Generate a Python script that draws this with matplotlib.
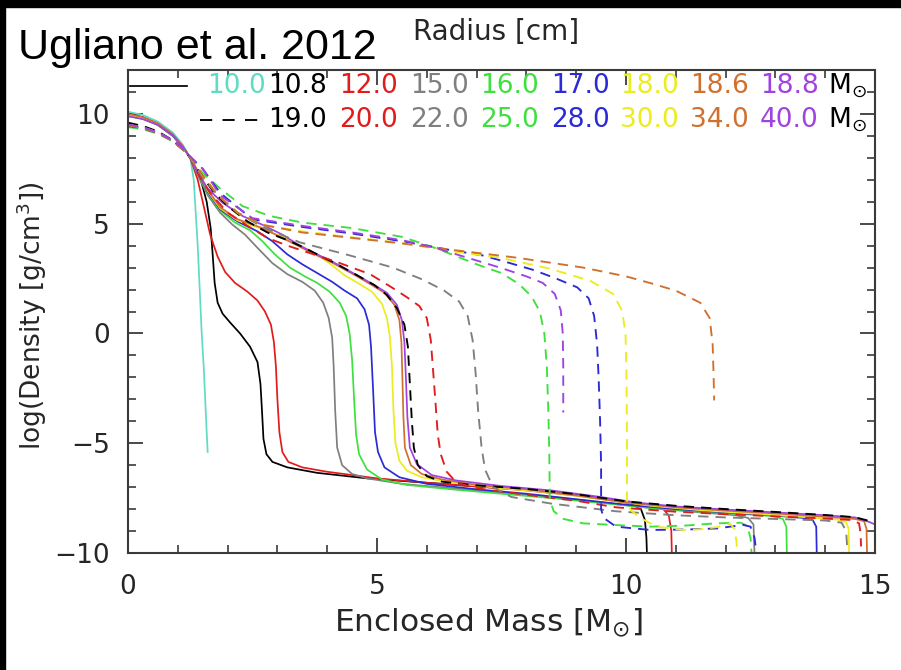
import matplotlib
matplotlib.use("Agg")
import matplotlib.pyplot as plt
from matplotlib.patches import Rectangle
from matplotlib.ticker import MultipleLocator

# ---------------- data ----------------
# solid curves: 10.0 .. 18.8 Msun
x_10_0 = [0, 0.3, 0.6, 0.9, 1.1, 1.25, 1.32, 1.36, 1.4, 1.44, 1.48, 1.52, 1.55, 1.58, 1.6]
y_10_0 = [10.1, 9.95, 9.65, 9.15, 8.6, 8.0, 7.0, 5.5, 4.0, 2.0, 0.0, -1.5, -3.0, -4.5, -5.4]

x_10_8 = [0, 0.3, 0.6, 0.9, 1.1, 1.25, 1.45, 1.58, 1.66, 1.7, 1.74, 1.8, 1.9, 2.05, 2.25, 2.45, 2.6, 2.66,
          2.69, 2.72, 2.78, 2.9, 3.2, 3.8, 4.8, 6.0, 7.0, 8.0, 9.0, 9.8, 10.1, 10.3, 10.38, 10.41, 10.42]
y_10_8 = [10.0, 9.85, 9.55, 9.05, 8.5, 8.0, 7.1, 6.0, 4.8, 3.6, 2.3, 1.4, 0.9, 0.5, 0.0, -0.6, -1.3, -2.3,
          -3.5, -4.8, -5.5, -5.85, -6.1, -6.35, -6.6, -6.8, -6.97, -7.12, -7.35, -7.6, -7.75, -8.0, -8.5, -9.3, -10.0]

x_12_0 = [0, 0.3, 0.6, 0.9, 1.1, 1.25, 1.4, 1.52, 1.65, 1.8, 1.95, 2.15, 2.4, 2.6, 2.75, 2.87, 2.93, 2.97,
          3.0, 3.04, 3.1, 3.22, 3.5, 4.0, 5.0, 6.0, 7.0, 8.0, 9.0, 10.0, 10.5, 10.75, 10.86, 10.91, 10.92]
y_12_0 = [9.95, 9.8, 9.5, 9.0, 8.5, 8.0, 7.0, 5.8, 4.5, 3.5, 2.8, 2.3, 1.9, 1.5, 1.0, 0.4, -0.4, -1.5,
          -3.0, -4.5, -5.4, -5.85, -6.1, -6.3, -6.6, -6.8, -6.97, -7.15, -7.38, -7.7, -7.85, -8.0, -8.3, -9.0, -10.0]

x_15_0 = [0, 0.3, 0.6, 0.9, 1.1, 1.25, 1.4, 1.6, 1.85, 2.1, 2.35, 2.6, 2.9, 3.2, 3.5, 3.75, 3.92, 4.03,
          4.1, 4.13, 4.16, 4.2, 4.3, 4.5, 4.8, 5.5, 6.5, 7.5, 8.5, 9.5, 10.5, 11.5, 12.2, 12.45, 12.56, 12.58]
y_15_0 = [9.9, 9.78, 9.5, 9.0, 8.5, 8.0, 7.2, 6.3, 5.5, 4.95, 4.5, 3.9, 3.2, 2.7, 2.35, 1.95, 1.4, 0.7,
          -0.2, -1.5, -3.5, -5.2, -6.0, -6.4, -6.6, -6.85, -7.05, -7.25, -7.45, -7.7, -7.95, -8.15, -8.28, -8.4, -8.7, -10.0]

x_16_0 = [0, 0.3, 0.6, 0.9, 1.1, 1.25, 1.4, 1.6, 1.85, 2.15, 2.45, 2.7, 2.95, 3.25, 3.55, 3.8, 4.05, 4.25,
          4.38, 4.45, 4.5, 4.54, 4.58, 4.64, 4.8, 5.1, 5.6, 6.5, 7.5, 8.5, 9.5, 10.5, 11.5, 12.5, 12.95, 13.15, 13.22, 13.23]
y_16_0 = [9.9, 9.78, 9.5, 9.0, 8.5, 8.0, 7.3, 6.4, 5.6, 5.05, 4.7, 4.2, 3.6, 3.0, 2.6, 2.3, 1.9, 1.4,
          0.8, 0.0, -1.2, -3.0, -4.6, -5.5, -6.2, -6.65, -6.9, -7.1, -7.3, -7.5, -7.72, -7.95, -8.12, -8.25, -8.32, -8.45, -8.8, -10.0]

x_17_0 = [0, 0.3, 0.6, 0.9, 1.1, 1.25, 1.4, 1.6, 1.85, 2.2, 2.6, 2.9, 3.2, 3.5, 3.8, 4.1, 4.35, 4.6,
          4.75, 4.84, 4.88, 4.92, 4.96, 5.02, 5.15, 5.45, 6.0, 7.0, 8.0, 9.0, 10.0, 11.0, 12.0, 13.0, 13.55, 13.75, 13.82, 13.83]
y_17_0 = [9.95, 9.8, 9.52, 9.02, 8.5, 8.0, 7.35, 6.45, 5.65, 5.1, 4.65, 4.2, 3.6, 3.15, 2.75, 2.35, 1.95, 1.6,
          1.1, 0.4, -0.6, -2.5, -4.5, -5.4, -6.1, -6.55, -6.85, -7.1, -7.3, -7.55, -7.8, -8.0, -8.15, -8.3, -8.4, -8.5, -8.8, -10.0]

x_18_0 = [0, 0.3, 0.6, 0.9, 1.1, 1.25, 1.4, 1.6, 1.85, 2.2, 2.7, 3.1, 3.5, 3.8, 4.1, 4.35, 4.65, 4.9, 5.1,
          5.2, 5.26, 5.3, 5.33, 5.37, 5.45, 5.6, 5.9, 6.5, 7.5, 8.5, 9.5, 10.5, 11.5, 12.5, 13.5, 14.25, 14.42, 14.47, 14.48]
y_18_0 = [9.95, 9.82, 9.55, 9.05, 8.52, 8.0, 7.4, 6.5, 5.7, 5.15, 4.75, 4.4, 3.95, 3.6, 3.1, 2.65, 2.25, 1.9, 1.35,
          0.7, -0.2, -1.5, -3.5, -5.0, -5.8, -6.25, -6.55, -6.8, -7.05, -7.25, -7.55, -7.85, -8.05, -8.2, -8.35, -8.48, -8.6, -8.9, -10.0]

x_18_6 = [0, 0.3, 0.6, 0.9, 1.1, 1.25, 1.4, 1.6, 1.85, 2.2, 2.7, 3.1, 3.45, 3.8, 4.12, 4.6, 4.9, 5.15, 5.35,
          5.45, 5.49, 5.51, 5.53, 5.56, 5.68, 5.9, 6.3, 7.0, 8.0, 9.0, 10.0, 11.0, 12.0, 13.0, 14.0, 14.6, 14.78, 14.83, 14.84]
y_18_6 = [10.0, 9.85, 9.57, 9.07, 8.53, 8.0, 7.4, 6.55, 5.75, 5.2, 4.8, 4.35, 3.95, 3.55, 3.2, 2.6, 2.2, 1.85, 1.3,
          0.6, -0.4, -2.0, -3.8, -5.2, -6.0, -6.4, -6.65, -6.9, -7.1, -7.38, -7.7, -7.92, -8.07, -8.2, -8.35, -8.45, -8.55, -8.9, -10.0]

x_18_8 = [0, 0.3, 0.6, 0.9, 1.1, 1.25, 1.4, 1.6, 1.9, 2.3, 2.7, 3.1, 3.45, 3.8, 4.12, 4.6, 4.95, 5.2, 5.4,
          5.5, 5.55, 5.58, 5.61, 5.66, 5.8, 6.1, 6.6, 7.5, 8.5, 9.5, 10.2, 11.0, 12.0, 13.0, 14.0, 14.6, 14.9, 15.0]
y_18_8 = [9.9, 9.76, 9.5, 9.02, 8.5, 8.0, 7.3, 6.6, 5.95, 5.35, 4.95, 4.5, 4.0, 3.6, 3.25, 2.65, 2.2, 1.85, 1.3,
          0.6, -0.4, -2.0, -3.8, -5.2, -5.95, -6.45, -6.7, -6.95, -7.15, -7.45, -7.7, -7.88, -8.02, -8.15, -8.28, -8.38, -8.6, -8.7]

# dashed curves: 19.0 .. 40.0 Msun
x_19_0 = [0, 0.3, 0.6, 0.9, 1.1, 1.25, 1.45, 1.7, 2.0, 2.4, 2.8, 3.2, 3.5, 3.8, 4.12, 4.6, 4.95, 5.2, 5.4,
          5.55, 5.62, 5.66, 5.7, 5.74, 5.82, 6.0, 6.3, 7.0, 8.0, 9.0, 10.0, 11.0, 12.0, 13.0, 14.0, 14.6, 14.9, 15.0]
y_19_0 = [9.6, 9.45, 9.2, 8.8, 8.4, 8.0, 7.3, 6.5, 5.8, 5.1, 4.6, 4.25, 3.95, 3.6, 3.25, 2.65, 2.2, 1.75, 1.15,
          0.4, -0.6, -2.3, -4.0, -5.2, -6.0, -6.5, -6.75, -6.92, -7.08, -7.32, -7.65, -7.85, -8.0, -8.13, -8.27, -8.37, -8.55, -8.65]

x_20_0 = [0, 0.3, 0.6, 0.9, 1.1, 1.25, 1.45, 1.65, 2.0, 2.4, 2.8, 3.2, 3.6, 4.2, 4.86, 5.26, 5.6, 5.85, 6.0,
          6.08, 6.12, 6.17, 6.22, 6.28, 6.4, 6.6, 7.0, 8.0, 9.0, 9.8, 11.0, 12.0, 13.0, 14.0, 14.55, 14.68, 14.71, 14.72]
y_20_0 = [9.5, 9.38, 9.15, 8.78, 8.38, 8.0, 7.1, 6.4, 5.5, 4.9, 4.35, 4.0, 3.7, 3.25, 2.7, 2.15, 1.65, 1.25, 0.7,
          -0.3, -1.5, -3.0, -4.6, -5.5, -6.3, -6.8, -7.05, -7.35, -7.62, -7.92, -8.12, -8.23, -8.33, -8.43, -8.5, -8.65, -9.1, -9.7]

x_22_0 = [0, 0.3, 0.6, 0.9, 1.1, 1.25, 1.5, 1.8, 2.2, 2.7, 3.45, 4.46, 5.32, 5.92, 6.35, 6.65, 6.82, 6.92,
          6.98, 7.03, 7.1, 7.17, 7.33, 7.7, 8.5, 9.8, 11.0, 12.0, 13.0, 14.0, 14.33, 14.42, 14.44]
y_22_0 = [9.45, 9.33, 9.12, 8.76, 8.37, 8.0, 7.1, 6.3, 5.5, 4.85, 4.15, 3.55, 3.0, 2.45, 1.95, 1.45, 0.8, -0.3,
          -1.8, -3.5, -5.2, -6.2, -7.0, -7.45, -7.75, -8.1, -8.28, -8.38, -8.45, -8.52, -8.62, -9.0, -9.7]

x_25_0 = [0, 0.3, 0.6, 0.9, 1.1, 1.25, 1.5, 1.85, 2.3, 2.85, 3.5, 4.5, 5.5, 6.1, 6.5, 7.0, 7.5, 7.85, 8.1,
          8.27, 8.36, 8.41, 8.44, 8.46, 8.47, 8.55, 8.75, 9.14, 10.0, 10.5, 11.2, 11.8, 12.3, 12.43, 12.5, 12.52]
y_25_0 = [9.4, 9.3, 9.1, 8.75, 8.38, 8.05, 7.3, 6.6, 5.8, 5.35, 5.05, 4.8, 4.4, 3.95, 3.6, 3.15, 2.75, 2.25, 1.7,
          1.0, 0.0, -1.5, -3.5, -5.5, -7.6, -8.1, -8.45, -8.65, -8.75, -8.8, -8.75, -8.65, -8.62, -8.75, -9.3, -10.0]

x_28_0 = [0, 0.3, 0.6, 0.9, 1.1, 1.25, 1.5, 1.85, 2.5, 3.5, 4.5, 5.5, 6.47, 7.13, 7.6, 8.13, 8.6, 9.02, 9.25,
          9.36, 9.42, 9.45, 9.48, 9.5, 9.5, 9.55, 9.8, 10.48, 11.2, 11.83, 12.35, 12.5, 12.58, 12.62]
y_28_0 = [9.45, 9.35, 9.12, 8.77, 8.38, 8.05, 7.5, 6.4, 5.2, 4.85, 4.55, 4.2, 3.8, 3.55, 3.25, 2.9, 2.5, 2.1, 1.6,
          0.8, -0.5, -2.0, -4.0, -6.0, -8.0, -8.4, -8.8, -8.95, -8.93, -8.88, -8.72, -8.8, -9.3, -10.0]

x_30_0 = [0, 0.3, 0.6, 0.9, 1.1, 1.25, 1.5, 1.8, 2.2, 2.7, 3.5, 4.5, 5.5, 6.47, 7.47, 8.47, 9.28, 9.74, 9.92,
          9.99, 10.01, 10.02, 10.02, 10.1, 10.28, 10.62, 11.14, 11.5, 11.83, 12.09, 12.18, 12.22, 12.23]
y_30_0 = [9.5, 9.38, 9.15, 8.78, 8.4, 8.05, 7.2, 6.35, 5.5, 4.95, 4.65, 4.38, 4.12, 3.75, 3.45, 2.95, 2.4, 1.8, 1.05,
          0.0, -2.0, -5.0, -7.8, -8.05, -8.4, -8.8, -8.95, -8.92, -8.82, -8.67, -8.9, -9.5, -10.0]

x_34_0 = [0, 0.3, 0.6, 0.9, 1.1, 1.25, 1.5, 1.8, 2.2, 2.7, 3.5, 4.5, 5.5, 6.47, 7.81, 9.14, 10.0, 10.48, 11.0,
          11.49, 11.68, 11.74, 11.76, 11.77]
y_34_0 = [9.48, 9.36, 9.13, 8.77, 8.38, 8.05, 7.2, 6.3, 5.5, 4.95, 4.6, 4.35, 4.1, 3.82, 3.45, 3.0, 2.6, 2.3, 1.95,
          1.4, 0.7, -0.5, -2.0, -3.05]

x_40_0 = [0, 0.3, 0.6, 0.9, 1.1, 1.25, 1.5, 1.85, 2.5, 3.5, 4.5, 5.5, 6.1, 6.67, 7.47, 8.0, 8.33, 8.57, 8.69,
          8.73, 8.74, 8.74]
y_40_0 = [9.52, 9.4, 9.16, 8.8, 8.42, 8.05, 7.5, 6.3, 5.25, 4.9, 4.6, 4.25, 3.95, 3.55, 3.0, 2.6, 2.3, 1.8, 1.05,
          0.0, -1.5, -3.6]

solid_labels = ["10.0", "10.8", "12.0", "15.0", "16.0", "17.0", "18.0", "18.6", "18.8"]
dashed_labels = ["19.0", "20.0", "22.0", "25.0", "28.0", "30.0", "34.0", "40.0"]

x_ticks = [0, 5, 10, 15]
y_ticks = [-10, -5, 0, 5, 10]

# ---------------- styles ----------------
c_aqua = "#5fdcc4"
c_black = "#000000"
c_red = "#e01c1c"
c_gray = "#7f7f7f"
c_green = "#3ee03e"
c_blue = "#2a2ad6"
c_yellow = "#ecec1e"
c_orange = "#d0702e"
c_purple = "#a042e0"

solid_xs = [x_10_0, x_10_8, x_12_0, x_15_0, x_16_0, x_17_0, x_18_0, x_18_6, x_18_8]
solid_ys = [y_10_0, y_10_8, y_12_0, y_15_0, y_16_0, y_17_0, y_18_0, y_18_6, y_18_8]
solid_cols = [c_aqua, c_black, c_red, c_gray, c_green, c_blue, c_yellow, c_orange, c_purple]

dashed_xs = [x_19_0, x_20_0, x_22_0, x_25_0, x_28_0, x_30_0, x_34_0, x_40_0]
dashed_ys = [y_19_0, y_20_0, y_22_0, y_25_0, y_28_0, y_30_0, y_34_0, y_40_0]
dashed_cols = [c_black, c_red, c_gray, c_green, c_blue, c_yellow, c_orange, c_purple]

FONT = "DejaVu Sans"
TXT = "#262626"
AX = "#3a3a3a"
LEG = 19

fig = plt.figure(figsize=(9.01, 6.70), dpi=100)
fig.patch.set_facecolor("white")
ax = fig.add_axes([128 / 901, 1 - 553 / 670, 747 / 901, 483 / 670])

for xs, ys, c in zip(solid_xs, solid_ys, solid_cols):
    ax.plot(xs, ys, color=c, lw=1.25, solid_joinstyle="round")
for xs, ys, c in zip(dashed_xs, dashed_ys, dashed_cols):
    ax.plot(xs, ys, color=c, lw=1.35, linestyle=(0, (5.5, 3.8)))

ax.set_xlim(0, 15)
ax.set_ylim(-10, 12)
ax.set_xticks(x_ticks)
ax.set_yticks(y_ticks)
ax.xaxis.set_minor_locator(MultipleLocator(1))
ax.yaxis.set_minor_locator(MultipleLocator(1))
ax.tick_params(which="major", direction="in", top=True, right=True, length=11, width=1.3,
               color=AX, labelsize=19, labelcolor=TXT)
ax.tick_params(which="minor", direction="in", top=True, right=True, length=6, width=1.2, color=AX)
ax.tick_params(axis="x", which="major", pad=15)
ax.tick_params(axis="y", which="major", pad=13)
for lab in ax.get_xticklabels() + ax.get_yticklabels():
    lab.set_fontfamily(FONT)
for sp in ax.spines.values():
    sp.set_color(AX)
    sp.set_linewidth(1.5)

ax.set_xlabel(r"Enclosed Mass $[\mathrm{M}_{\odot}]$", fontsize=22.5, color=TXT, family=FONT)
ax.xaxis.set_label_coords(0.482, -0.145)
ax.xaxis.label.set_verticalalignment("center")
ax.set_ylabel(r"log(Density $[\mathrm{g/cm}^{3}]$)", fontsize=19, color=TXT, family=FONT)
ax.yaxis.set_label_coords(-0.129, 0.49)
ax.yaxis.label.set_verticalalignment("center")
ax.text(0.493, 1.078, "Radius [cm]", transform=ax.transAxes, ha="center", va="center",
        fontsize=20, color=TXT, family=FONT)

# legend rows (manual, IDL style)
ax.plot([0.003, 0.079], [0.967, 0.967], transform=ax.transAxes, color="black", lw=1.25)
ax.plot([0.097, 0.175], [0.897, 0.897], transform=ax.transAxes, color="black", lw=1.35,
        linestyle=(0, (6.5, 5.5)))
row1_x = [0.106, 0.187, 0.283, 0.378, 0.472, 0.566, 0.659, 0.752, 0.846]
row2_x = [0.187, 0.283, 0.378, 0.472, 0.566, 0.659, 0.752, 0.846]
for lab, c, xx in zip(solid_labels, solid_cols, row1_x):
    ax.text(xx, 0.967, lab, transform=ax.transAxes, color=c, fontsize=LEG, family=FONT,
            ha="left", va="center")
for lab, c, xx in zip(dashed_labels, dashed_cols, row2_x):
    ax.text(xx, 0.897, lab, transform=ax.transAxes, color=c, fontsize=LEG, family=FONT,
            ha="left", va="center")
ax.text(0.937, 0.967, r"$\mathrm{M}_{\odot}$", transform=ax.transAxes, color="black", fontsize=LEG,
        ha="left", va="center")
ax.text(0.937, 0.897, r"$\mathrm{M}_{\odot}$", transform=ax.transAxes, color="black", fontsize=LEG,
        ha="left", va="center")

fig.text(18 / 901, 1 - 59 / 670, "Ugliano et al. 2012", fontsize=31, family="Liberation Sans",
         color="black", ha="left", va="baseline")

# black frame strips of the screenshot
fig.add_artist(Rectangle((0, 0), 5 / 901, 1, transform=fig.transFigure, color="black", zorder=10))
fig.add_artist(Rectangle((0, 1 - 7 / 670), 1, 7 / 670, transform=fig.transFigure, color="black", zorder=10))

fig.savefig("out.png", dpi=100, facecolor="white")
